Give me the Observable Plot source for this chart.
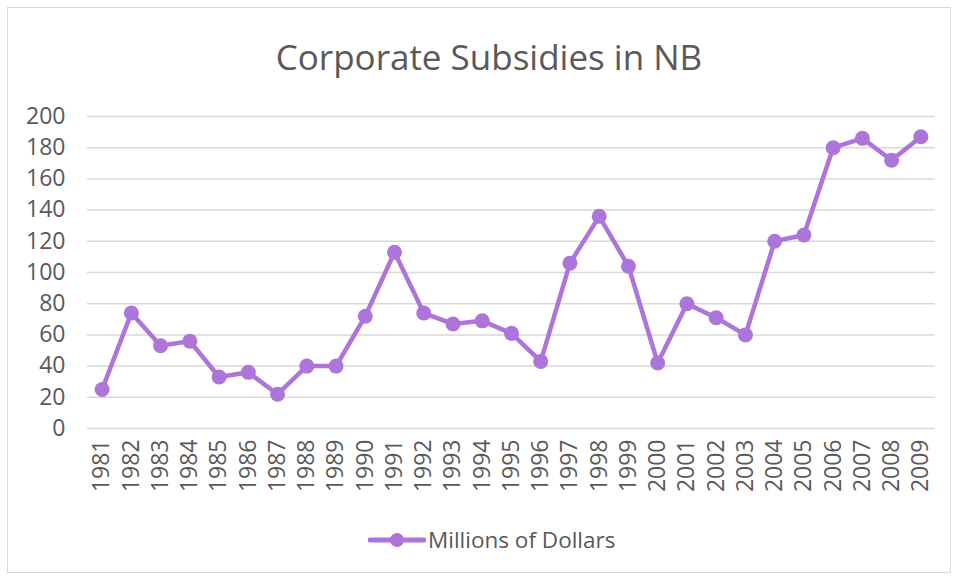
<!DOCTYPE html>
<html><head><meta charset="utf-8">
<script src="https://cdn.jsdelivr.net/npm/d3@7"></script>
<script src="https://cdn.jsdelivr.net/npm/@observablehq/plot@0.6"></script>
<style>
body{margin:0;background:#fff;font-family:"Open Sans",sans-serif;}
#frame{position:absolute;left:7px;top:7px;width:942px;height:564px;border:1px solid #d9d9d9;}
#title{position:absolute;left:0;top:34px;width:978px;text-align:center;font-size:35px;color:#595959;line-height:46px;}
#chart{position:absolute;left:0;top:95px;}
#legend{position:absolute;left:368px;top:525px;display:flex;align-items:center;font-size:22.5px;color:#595959;line-height:30px;}
</style></head>
<body>
<div id="frame"></div>
<div id="title">Corporate Subsidies in NB</div>
<div id="chart"></div>
<div id="legend"><svg width="58" height="20"><line x1="2" y1="10" x2="56" y2="10" stroke="#ad74da" stroke-width="5" stroke-linecap="round"/><circle cx="29" cy="10" r="7" fill="#ad74da"/></svg><span style="margin-left:2px">Millions of Dollars</span></div>
<script>
const years = ["1981","1982","1983","1984","1985","1986","1987","1988","1989","1990","1991","1992","1993","1994","1995","1996","1997","1998","1999","2000","2001","2002","2003","2004","2005","2006","2007","2008","2009"];
const values = [25,74,53,56,33,36,22,40,40,72,113,74,67,69,61,43,106,136,104,42,80,71,60,120,124,180,186,172,187];
const yTicks = [0,20,40,60,80,100,120,140,160,180,200];
const seriesName = "Millions of Dollars";
const data = years.map((y,i)=>({year:y, value:values[i]}));
const color = "#ad74da";
const plot = Plot.plot({
  width: 958, height: 420,
  marginLeft: 87, marginRight: 23, marginTop: 21, marginBottom: 87,
  style: {fontFamily: "'Open Sans', sans-serif", fontSize: "23px", color: "#595959", background: "transparent"},
  x: {type: "point", domain: years, padding: 0.5, round: false, label: null},
  y: {domain: [0,200], ticks: yTicks, label: null},
  marks: [
    Plot.gridY(yTicks, {stroke: "#d9d9d9", strokeOpacity: 1, strokeWidth: 1.5}),
    Plot.axisY({ticks: yTicks, tickSize: 0, tickPadding: 22, fontSize: 23, fill: "#595959"}),
    Plot.axisX({tickSize: 0, tickPadding: 11, tickRotate: -90, fontSize: 23, fill: "#595959"}),
    Plot.line(data, {x: "year", y: "value", stroke: color, strokeWidth: 4.5}),
    Plot.dot(data, {x: "year", y: "value", fill: color, r: 7.5})
  ]
});
document.getElementById("chart").appendChild(plot);
</script>
</body></html>
